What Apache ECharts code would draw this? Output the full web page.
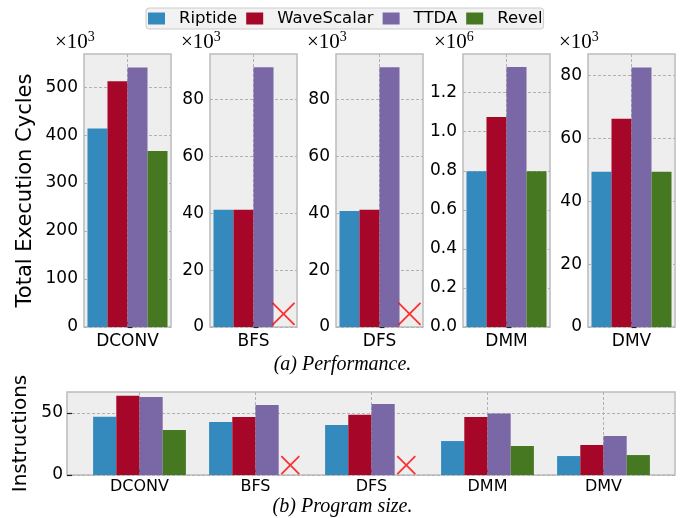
<!DOCTYPE html>
<html><head><meta charset="utf-8">
<script src="https://cdn.jsdelivr.net/npm/echarts@6/dist/echarts.min.js"></script>
<style>html,body{margin:0;padding:0;background:#fff}#c{width:685px;height:518px}</style>
</head><body><div id="c"></div>
<script>
// ---------- data ----------
const categories = ['DCONV', 'BFS', 'DFS', 'DMM', 'DMV'];
const seriesNames = ['Riptide', 'WaveScalar', 'TTDA', 'Revel'];
// (a) Total execution cycles
const cyclesRiptide    = [413600, 41200, 40800,  797000, 49400];
const cyclesWaveScalar = [512000, 41200, 41200, 1075000, 66300];
const cyclesTTDA       = [541000, 91300, 91300, 1332000, 82600];
const cyclesRevel      = [367000,  null,  null,  797000, 49400];
// (b) Program size (instructions)
const sizeRiptide    = [47.0, 42.7, 40.3, 27.4, 15.3];
const sizeWaveScalar = [64.0, 46.8, 48.7, 46.8, 24.2];
const sizeTTDA       = [63.0, 56.5, 57.3, 49.7, 31.5];
const sizeRevel      = [36.3, null, null, 23.4, 16.1];
// marker height for unsupported (Revel on BFS/DFS)
const missingCycles = [null, 4600, 4600, null, null];
const missingSize   = [null, 8, 8, null, null];
// axis ticks
const perfExp   = [3, 3, 3, 6, 3];
const perfMax   = [569000, 96000, 96000, 1398000, 86900];
const perfTicks = [
  [0, 100000, 200000, 300000, 400000, 500000],
  [0, 20000, 40000, 60000, 80000],
  [0, 20000, 40000, 60000, 80000],
  [0, 200000, 400000, 600000, 800000, 1000000, 1200000],
  [0, 20000, 40000, 60000, 80000]
];
const sizeMax = 67;
const sizeTicks = [0, 50];

// ---------- style ----------
const colors = ['#348ABD', '#A60628', '#7A68A6', '#467821'];
const FONT = 'DejaVu Sans';
const SERIF = 'Liberation Serif';
const panelLeft = [84, 210, 336, 463, 588];
const panelW = 87, panelTop = 54, panelH = 273;
const bg = '#eeeeee', border = '#bcbcbc', gridCol = '#b2b2b2';
const XPATH = 'path://M0,0L10,10M10,0L0,10';

const grid = [], xAxis = [], yAxis = [], series = [], title = [];
const cycles = [cyclesRiptide, cyclesWaveScalar, cyclesTTDA, cyclesRevel];
const sizes = [sizeRiptide, sizeWaveScalar, sizeTTDA, sizeRevel];

const tickStyle = { show: true, inside: true, length: 5, lineStyle: { color: '#222', width: 1.2 } };
const splitStyle = { show: true, lineStyle: { color: gridCol, type: [3, 2], width: 1 } };
const vLine = (cats) => ({ silent: true, symbol: 'none', z: 1, label: { show: false },
  lineStyle: { color: gridCol, type: [3, 2], width: 1 }, data: cats.map(c => ({ xAxis: c })) });

categories.forEach((cat, i) => {
  grid.push({ left: panelLeft[i], top: panelTop, width: panelW, height: panelH,
    show: true, backgroundColor: bg, borderColor: border, borderWidth: 1.5, containLabel: false });
  xAxis.push({ type: 'category', gridIndex: i, data: [cat],
    axisLine: { show: false }, axisTick: Object.assign({ alignWithLabel: true }, tickStyle),
    axisLabel: { fontFamily: FONT, fontSize: 17, color: '#000', margin: 6.5 },
    splitLine: { show: false } });
  xAxis.push({ type: 'value', gridIndex: i, min: -0.5, max: 0.5, show: false });
  const exp = perfExp[i], div = Math.pow(10, exp);
  yAxis.push({ type: 'value', gridIndex: i, min: 0, max: perfMax[i],
    interval: perfTicks[i][1] - perfTicks[i][0],
    axisLine: { show: false },
    axisTick: Object.assign({ customValues: perfTicks[i] }, tickStyle),
    axisLabel: { fontFamily: FONT, fontSize: 17, color: '#000', margin: 6,
      customValues: perfTicks[i],
      formatter: v => exp === 6 ? (v / div).toFixed(1) : String(Math.round(v / div)) },
    splitLine: splitStyle,
    name: i === 0 ? 'Total Execution Cycles' : '',
    nameLocation: 'middle', nameGap: 48,
    nameTextStyle: { fontFamily: FONT, fontSize: 21, color: '#000' } });
  // vertical grid line at the category tick
  series.push({ type: 'line', name: 'grid', xAxisIndex: 2 * i, yAxisIndex: i, data: [],
    markLine: vLine([cat]) });
  seriesNames.forEach((nm, k) => {
    series.push({ type: 'bar', name: nm, xAxisIndex: 2 * i, yAxisIndex: i,
      data: [cycles[k][i]], barGap: 0, barCategoryGap: '8%',
      itemStyle: { color: colors[k] } });
  });
  if (missingCycles[i] !== null) {
    series.push({ type: 'scatter', name: 'missing', xAxisIndex: 2 * i + 1, yAxisIndex: i,
      data: [[0.345, missingCycles[i]]], symbol: XPATH, symbolSize: 22, z: 5,
      itemStyle: { color: 'rgba(0,0,0,0)', borderColor: '#ff0000', borderWidth: 1.8 } });
  }
  title.push({ text: '{a|×10}{s|' + exp + '}', left: panelLeft[i] - 29, top: 30, padding: 0,
    textStyle: { fontWeight: 'normal', rich: {
      a: { fontFamily: SERIF, fontSize: 21, fontWeight: 'normal', lineHeight: 24, color: '#000' },
      s: { fontFamily: SERIF, fontSize: 14, fontWeight: 'normal', lineHeight: 13, verticalAlign: 'top', color: '#000' } } } });
});

// ---------- (b) program size ----------
const bLeft = 67, bRight = 675, bTop = 392, bH = 83;
const band = 116;
const innerLeft = bLeft + 0.125 * band;
grid.push({ left: bLeft, top: bTop, width: bRight - bLeft, height: bH,
  show: true, backgroundColor: bg, borderColor: border, borderWidth: 1.5 });           // 5
grid.push({ left: innerLeft, top: bTop, width: band * categories.length, height: bH, show: false }); // 6
xAxis.push({ type: 'value', gridIndex: 5, min: 0, max: 1, show: false });               // 10
xAxis.push({ type: 'category', gridIndex: 6, data: categories,                           // 11
  axisLine: { show: false }, axisTick: Object.assign({ alignWithLabel: true }, tickStyle),
  axisLabel: { fontFamily: FONT, fontSize: 16, color: '#000', margin: 3.5 },
  splitLine: { show: false } });
xAxis.push({ type: 'value', gridIndex: 6, min: -0.5, max: categories.length - 0.5, show: false }); // 12
yAxis.push({ type: 'value', gridIndex: 5, min: 0, max: sizeMax, interval: 50,
  axisLine: { show: false },
  axisTick: Object.assign({ customValues: sizeTicks }, tickStyle),
  axisLabel: { fontFamily: FONT, fontSize: 17, color: '#000', margin: 4, customValues: sizeTicks },
  splitLine: splitStyle,
  name: 'Instructions', nameLocation: 'middle', nameGap: 33,
  nameTextStyle: { fontFamily: FONT, fontSize: 20, color: '#000' } });
yAxis.push({ type: 'value', gridIndex: 6, min: 0, max: sizeMax, show: false });
series.push({ type: 'line', name: 'grid', xAxisIndex: 11, yAxisIndex: 6, data: [],
  markLine: vLine(categories) });
seriesNames.forEach((nm, k) => {
  series.push({ type: 'bar', name: nm, xAxisIndex: 11, yAxisIndex: 6,
    data: sizes[k], barGap: 0, barCategoryGap: '20%', itemStyle: { color: colors[k] } });
});
series.push({ type: 'scatter', name: 'missing', xAxisIndex: 12, yAxisIndex: 6,
  data: missingSize.map((v, i) => v === null ? null : [i + 0.3, v]).filter(d => d),
  symbol: XPATH, symbolSize: 18, z: 5,
  itemStyle: { color: 'rgba(0,0,0,0)', borderColor: '#ff0000', borderWidth: 1.8 } });

// captions
title.push({ text: '(a) Performance.', left: 'center', top: 353, padding: 0,
  textStyle: { fontFamily: SERIF, fontStyle: 'italic', fontWeight: 'normal', fontSize: 20, lineHeight: 24, color: '#000' } });
title.push({ text: '(b) Program size.', left: 'center', top: 495, padding: 0,
  textStyle: { fontFamily: SERIF, fontStyle: 'italic', fontWeight: 'normal', fontSize: 20, lineHeight: 24, color: '#000' } });

const chart = echarts.init(document.getElementById('c'), null, { renderer: 'canvas' });
chart.setOption({
  animation: false,
  backgroundColor: '#fff',
  title: title,
  legend: { data: seriesNames, left: 146, top: 8, padding: [2, 1, 2, 2], itemGap: 9,
    icon: 'rect', itemWidth: 17, itemHeight: 12,
    backgroundColor: '#f2f2f2', borderColor: '#cccccc', borderWidth: 1, borderRadius: 3,
    textStyle: { fontFamily: FONT, fontSize: 16.5, color: '#000', padding: [0, 0, 0, 9] } },
  grid: grid, xAxis: xAxis, yAxis: yAxis, series: series
});
</script></body></html>
